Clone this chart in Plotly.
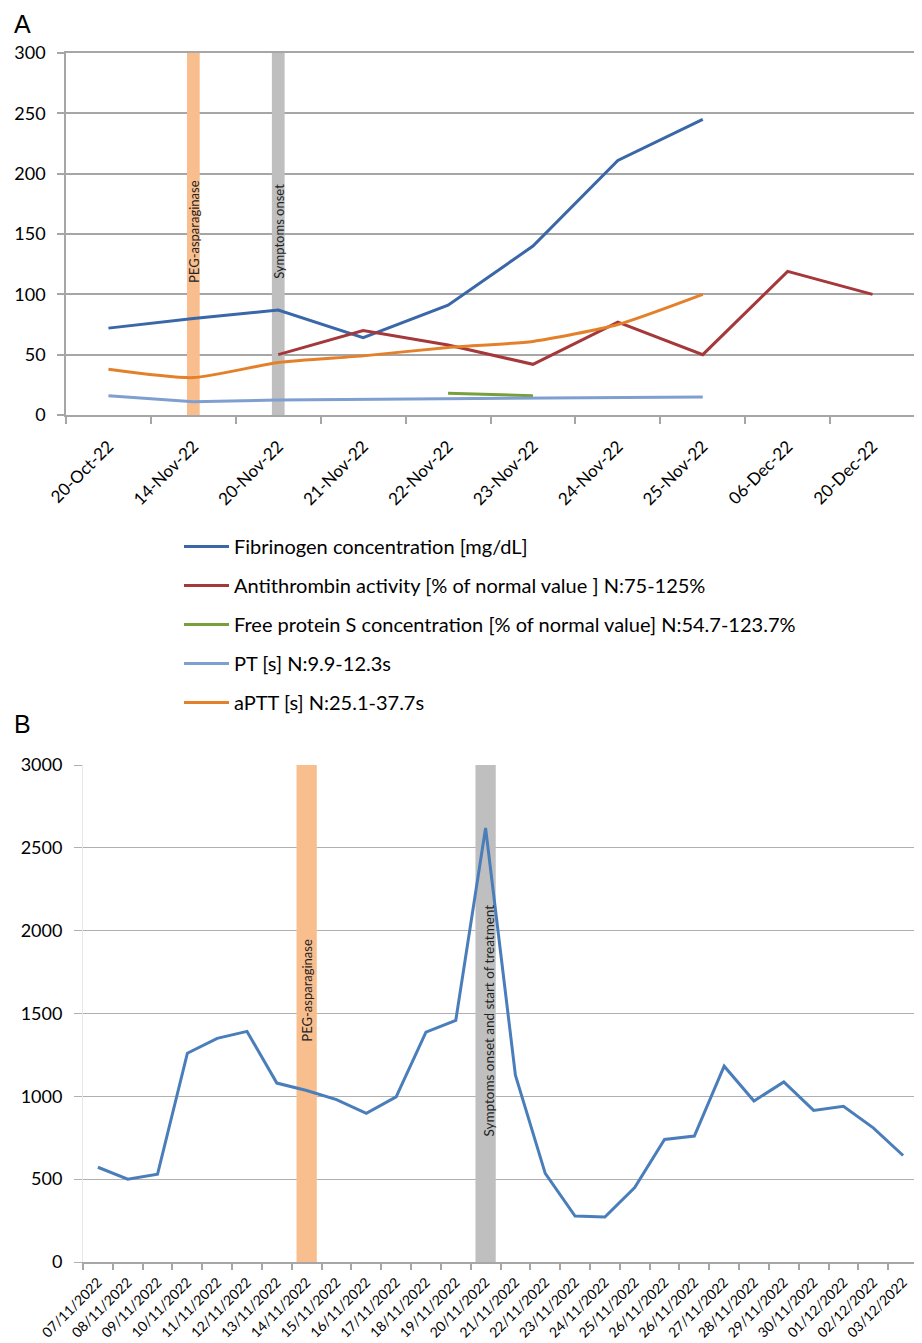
import plotly.graph_objects as go

# ---------------- Panel A data ----------------
dates_A = ["20-Oct-22", "14-Nov-22", "20-Nov-22", "21-Nov-22", "22-Nov-22",
           "23-Nov-22", "24-Nov-22", "25-Nov-22", "06-Dec-22", "20-Dec-22"]
fibrinogen = [72, 80, 87, 64, 91, 140, 211, 245, None, None]
antithrombin = [None, None, 50, 70, 58, 42, 77, 50, 119, 100]
protein_s = [None, None, None, None, 18, 16, None, None, None, None]
pt = [16, 11, 12.5, 13, 13.5, 13.5, 14, 15, None, None]
aptt = [38, 31, 43.5, 49, 56, 61, 75, 100, None, None]
names_A = ["Fibrinogen concentration [mg/dL]",
           "Antithrombin activity [% of normal value ] N:75-125%",
           "Free protein S concentration [% of normal value] N:54.7-123.7%",
           "PT [s] N:9.9-12.3s",
           "aPTT [s] N:25.1-37.7s"]
peg_date_A = "14-Nov-22"
onset_date_A = "20-Nov-22"

# ---------------- Panel B data ----------------
dates_B = ["07/11/2022", "08/11/2022", "09/11/2022", "10/11/2022", "11/11/2022",
           "12/11/2022", "13/11/2022", "14/11/2022", "15/11/2022", "16/11/2022",
           "17/11/2022", "18/11/2022", "19/11/2022", "20/11/2022", "21/11/2022",
           "22/11/2022", "23/11/2022", "24/11/2022", "25/11/2022", "26/11/2022",
           "26/11/2022", "27/11/2022", "28/11/2022", "29/11/2022", "30/11/2022",
           "01/12/2022", "02/12/2022", "03/12/2022"]
values_B = [572, 500, 530, 1260, 1350, 1392, 1080, 1035, 980, 897, 997, 1387,
            1458, 2620, 1128, 535, 277, 271, 450, 740, 760, 1182, 972, 1087,
            915, 940, 810, 643]
peg_index_B = 7
onset_index_B = 13

OFF = 8
W, H = 922 - OFF, 1343 - OFF


def px(x):
    return (x - OFF) / W


def py(y):
    return 1 - (y - OFF) / H


FONT = "Lato, Open Sans, sans-serif"
GRID = "#a6a6a6"

colors_A = ["#3a67a8", "#a5383a", "#77a03c", "#7f9fd0", "#e4802a"]

fig = go.Figure()

xA = list(range(len(dates_A)))
series_A = [fibrinogen, antithrombin, protein_s, pt, aptt]
for i, (ys, nm, col) in enumerate(zip(series_A, names_A, colors_A)):
    shape = "spline" if i == 4 else "linear"
    fig.add_trace(go.Scatter(
        x=xA, y=ys, name=nm, mode="lines",
        line=dict(color=col, width=3, shape=shape, smoothing=0.6),
        legendgroup=f"g{i}", xaxis="x", yaxis="y", connectgaps=False))

xB = list(range(len(dates_B)))
fig.add_trace(go.Scatter(
    x=xB, y=values_B, mode="lines", showlegend=False,
    line=dict(color="#4a7ebb", width=3), xaxis="x2", yaxis="y2"))

# Bands
pa = dates_A.index(peg_date_A)
oa = dates_A.index(onset_date_A)
shapes = [
    dict(type="rect", xref="x", yref="y", x0=pa - 0.075, x1=pa + 0.075,
         y0=0, y1=300, fillcolor="#f9be8e", line_width=0, layer="between"),
    dict(type="rect", xref="x", yref="y", x0=oa - 0.075, x1=oa + 0.075,
         y0=0, y1=300, fillcolor="#bfbfbf", line_width=0, layer="between"),
    dict(type="rect", xref="x2", yref="y2", x0=peg_index_B - 0.34,
         x1=peg_index_B + 0.34, y0=0, y1=3000, fillcolor="#f9be8e", line_width=0,
         layer="between"),
    dict(type="rect", xref="x2", yref="y2", x0=onset_index_B - 0.34,
         x1=onset_index_B + 0.34, y0=0, y1=3000, fillcolor="#bfbfbf", line_width=0,
         layer="between"),
]

annotations = [
    dict(text="A", xref="paper", yref="paper", x=px(12), y=py(8),
         xanchor="left", yanchor="top", showarrow=False,
         font=dict(family="Liberation Sans, Arial", size=25, color="#000")),
    dict(text="B", xref="paper", yref="paper", x=px(12), y=py(708),
         xanchor="left", yanchor="top", showarrow=False,
         font=dict(family="Liberation Sans, Arial", size=25, color="#000")),
    dict(text="PEG-asparaginase", xref="x", yref="y", x=pa, y=152,
         textangle=-90, showarrow=False, font=dict(family=FONT, size=13, color="#222")),
    dict(text="Symptoms onset", xref="x", yref="y", x=oa, y=152,
         textangle=-90, showarrow=False, font=dict(family=FONT, size=13, color="#222")),
    dict(text="PEG-asparaginase", xref="x2", yref="y2", x=peg_index_B, y=1642,
         textangle=-90, showarrow=False, font=dict(family=FONT, size=13, color="#222")),
    dict(text="Symptoms onset and start of treatment", xref="x2", yref="y2",
         x=onset_index_B + 0.1, y=1455, textangle=-90, showarrow=False,
         font=dict(family=FONT, size=13.5, color="#222")),
]

fig.update_layout(
    width=W, height=H,
    margin=dict(l=0, r=0, t=0, b=0, autoexpand=False),
    paper_bgcolor="white", plot_bgcolor="white",
    font=dict(family=FONT, color="#000"),
    shapes=shapes, annotations=annotations,
    showlegend=True,
    legend=dict(x=px(179), y=py(527), xanchor="left", yanchor="top",
                font=dict(family=FONT, size=20, color="#000"),
                tracegroupgap=10, itemwidth=45, bgcolor="rgba(0,0,0,0)"),
    xaxis=dict(domain=[px(66), px(915)], anchor="y", range=[-0.5, len(dates_A) - 0.5],
               automargin=False,
               tickmode="array", tickvals=xA, ticktext=dates_A, tickangle=-45,
               ticks="", showgrid=False, zeroline=False,
               showline=True, linecolor=GRID, linewidth=1.5, mirror=True,
               tickfont=dict(size=17), ticklabelstandoff=13,
               minor=dict(tickmode="array", tickvals=[i - 0.5 for i in range(len(dates_A) + 1)],
                          ticks="outside", ticklen=7, tickcolor=GRID, tickwidth=1.5,
                          showgrid=False)),
    yaxis=dict(domain=[py(415), py(53)], anchor="x", range=[0, 300],
               automargin=False,
               tickmode="linear", tick0=0, dtick=50, showgrid=True, gridcolor=GRID,
               gridwidth=1.5, zeroline=False, showline=True, linecolor=GRID,
               linewidth=1.5, mirror=True, ticks="outside", ticklen=7,
               tickcolor=GRID, tickwidth=1.5, tickfont=dict(size=18),
               ticklabelstandoff=8),
    xaxis2=dict(domain=[px(83), px(918)], anchor="y2", range=[-0.5, len(dates_B) - 0.5],
                automargin=False,
                tickmode="array", tickvals=xB, ticktext=dates_B, tickangle=-45,
                ticks="", showgrid=False, zeroline=False,
                showline=True, linecolor=GRID, linewidth=1.5,
                tickfont=dict(size=14), ticklabelstandoff=5,
                minor=dict(tickmode="array", tickvals=[i - 0.5 for i in range(len(dates_B) + 1)],
                           ticks="outside", ticklen=6, tickcolor=GRID, tickwidth=1.5,
                           showgrid=False)),
    yaxis2=dict(domain=[py(1262), py(765)], anchor="x2", range=[0, 3000],
                automargin=False,
                tickmode="linear", tick0=0, dtick=500, showgrid=True, gridcolor="#b0b0b0",
                gridwidth=1.2, zeroline=False, showline=True, linecolor="#ebe6df",
                linewidth=1, mirror=True, ticks="outside", ticklen=8,
                tickcolor="#b0b0b0", tickwidth=1.2, tickfont=dict(size=18),
                ticklabelstandoff=8),
)

fig.write_html("out.html")
